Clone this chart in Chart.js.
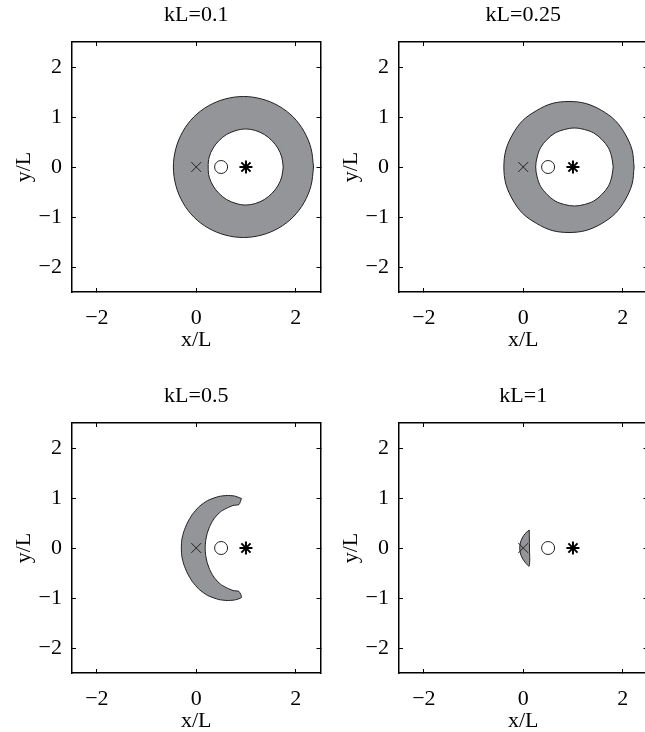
<!DOCTYPE html>
<html>
<head>
<meta charset="utf-8">
<script src="https://cdn.jsdelivr.net/npm/chart.js@4.4.1/dist/chart.umd.min.js"></script>
<style>
  html, body { margin: 0; padding: 0; overflow: hidden; background: #fff; }
  body { width: 645px; height: 732px; position: relative; }
  canvas { position: absolute; }
</style>
</head>
<body>
<canvas id="p1" width="329" height="353" style="left:0px;top:0px"></canvas>
<canvas id="p2" width="329" height="353" style="left:327px;top:0px"></canvas>
<canvas id="p3" width="329" height="353" style="left:0px;top:381px"></canvas>
<canvas id="p4" width="329" height="353" style="left:327px;top:381px"></canvas>
<script>
// panel titles and axis ticks
const panelTitles = ['kL=0.1', 'kL=0.25', 'kL=0.5', 'kL=1'];
const xTicks = [-2, 0, 2];
const yTicks = [-2, -1, 0, 1, 2];

// marker positions: x, o, *
const markerX = [0, 0.5, 1];
const markerY = [0, 0, 0];

// kL=0.1 : annulus outline (outer and inner edge)
const ring1OuterX = [2.36, 2.31, 2.17, 1.95, 1.66, 1.32, 0.95, 0.58, 0.24, -0.05, -0.27, -0.41, -0.46, -0.41, -0.27, -0.05, 0.24, 0.58, 0.95, 1.32, 1.66, 1.95, 2.17, 2.31, 2.36];
const ring1OuterY = [0, 0.37, 0.71, 1.00, 1.22, 1.36, 1.41, 1.36, 1.22, 1.00, 0.71, 0.37, 0, -0.37, -0.71, -1.00, -1.22, -1.36, -1.41, -1.36, -1.22, -1.00, -0.71, -0.37, 0];
const ring1InnerX = [1.75, 1.72, 1.64, 1.52, 1.37, 1.19, 0.99, 0.80, 0.61, 0.46, 0.34, 0.26, 0.24, 0.26, 0.34, 0.46, 0.61, 0.80, 0.99, 1.19, 1.37, 1.52, 1.64, 1.72, 1.75];
const ring1InnerY = [0, 0.20, 0.38, 0.53, 0.65, 0.73, 0.76, 0.73, 0.65, 0.53, 0.38, 0.20, 0, -0.20, -0.38, -0.53, -0.65, -0.73, -0.76, -0.73, -0.65, -0.53, -0.38, -0.20, 0];

// kL=0.25 : annulus outline
const ring2OuterX = [2.23, 2.19, 2.05, 1.85, 1.58, 1.26, 0.92, 0.58, 0.27, -0.01, -0.21, -0.35, -0.39, -0.35, -0.21, -0.01, 0.27, 0.58, 0.92, 1.26, 1.58, 1.85, 2.05, 2.19, 2.23];
const ring2OuterY = [0, 0.34, 0.66, 0.93, 1.13, 1.27, 1.31, 1.27, 1.13, 0.93, 0.66, 0.34, 0, -0.34, -0.66, -0.93, -1.13, -1.27, -1.31, -1.27, -1.13, -0.93, -0.66, -0.34, 0];
const ring2InnerX = [1.81, 1.78, 1.71, 1.58, 1.42, 1.23, 1.03, 0.83, 0.64, 0.48, 0.35, 0.28, 0.25, 0.28, 0.35, 0.48, 0.64, 0.83, 1.03, 1.23, 1.42, 1.58, 1.71, 1.78, 1.81];
const ring2InnerY = [0, 0.20, 0.39, 0.55, 0.68, 0.75, 0.78, 0.75, 0.68, 0.55, 0.39, 0.20, 0, -0.20, -0.39, -0.55, -0.68, -0.75, -0.78, -0.75, -0.68, -0.55, -0.39, -0.20, 0];

// kL=0.5 : crescent outline (outer arc down, inner arc back up)
const crescentX = [0.91, 0.77, 0.62, 0.45, 0.23, 0.06, -0.08, -0.18, -0.25, -0.29, -0.30,
                   -0.29, -0.25, -0.18, -0.08, 0.06, 0.23, 0.45, 0.62, 0.77, 0.91,
                   0.86, 0.74, 0.62, 0.51, 0.42, 0.34, 0.27, 0.22, 0.19, 0.18,
                   0.19, 0.22, 0.27, 0.34, 0.42, 0.51, 0.62, 0.74, 0.86, 0.91];
const crescentY = [0.99, 1.04, 1.05, 1.03, 0.95, 0.83, 0.67, 0.50, 0.33, 0.17, 0,
                   -0.17, -0.33, -0.50, -0.67, -0.83, -0.95, -1.03, -1.05, -1.04, -0.99,
                   -0.87, -0.85, -0.80, -0.74, -0.66, -0.56, -0.43, -0.29, -0.15, 0,
                   0.15, 0.29, 0.43, 0.56, 0.66, 0.74, 0.80, 0.85, 0.87, 0.99];

// kL=1 : small lens outline
const lensX = [0.12, 0.04, -0.02, -0.06, -0.07, -0.06, -0.02, 0.04, 0.12, 0.125, 0.12];
const lensY = [0.36, 0.29, 0.20, 0.10, 0, -0.10, -0.20, -0.29, -0.36, 0, 0.36];

const FONT = "'Liberation Serif', 'Times New Roman', serif";
const GREY = 'rgb(148, 149, 152)';
const EDGE = '#231f20';

Chart.defaults.color = '#000';
Chart.defaults.font.family = FONT;

function points(xs, ys) {
  return xs.map((x, i) => ({ x: x, y: ys[i] }));
}

// closed filled outline
function outline(xs, ys, fillColor, tension) {
  return {
    data: points(xs, ys),
    showLine: true,
    fill: 'shape',
    backgroundColor: fillColor,
    borderColor: EDGE,
    borderWidth: 1,
    pointRadius: 0,
    tension: tension
  };
}

function markers() {
  return [
    { data: [{ x: markerX[0], y: markerY[0] }], pointStyle: 'crossRot', pointRadius: 7,
      pointBorderColor: '#222', pointBorderWidth: 1 },
    { data: [{ x: markerX[1], y: markerY[1] }], pointStyle: 'circle', pointRadius: 6.5,
      pointBorderColor: '#222', pointBackgroundColor: '#fff', pointBorderWidth: 1 },
    { data: [{ x: markerX[2], y: markerY[2] }], pointStyle: 'star', pointRadius: 6.5,
      pointBorderColor: '#000', pointBorderWidth: 2 }
  ];
}

function setTicks(values) {
  return scale => { scale.ticks = values.map(v => ({ value: v })); };
}

function minus(v) {
  return String(v).replace('-', '\u2212');
}

const tickFont = { family: FONT, size: 22 };
const gridOpts = { drawOnChartArea: false, tickLength: -4, tickColor: '#000', tickWidth: 1 };
const borderOpts = { color: '#000', width: 1.5 };

function makePanel(id, title, shapes) {
  new Chart(document.getElementById(id), {
    type: 'scatter',
    data: { datasets: markers().concat(shapes) },
    options: {
      responsive: false,
      animation: false,
      events: [],
      layout: { padding: { left: 0, top: 0, right: 8, bottom: 0 } },
      plugins: {
        legend: { display: false },
        tooltip: { enabled: false },
        title: {
          display: true, text: title, fullSize: false, color: '#000',
          font: { family: FONT, size: 22, weight: 'normal' },
          padding: { top: 2.1, bottom: 13.5 }
        }
      },
      scales: {
        x: {
          type: 'linear', position: 'bottom', min: -2.5, max: 2.5,
          afterBuildTicks: setTicks(xTicks),
          afterFit: s => { s.height = 61; },
          grid: gridOpts, border: borderOpts,
          ticks: { font: tickFont, padding: 17, maxRotation: 0, autoSkip: false, callback: minus },
          title: { display: true, text: 'x/L', font: tickFont, padding: { top: 0, bottom: 0 } }
        },
        y: {
          type: 'linear', position: 'left', min: -2.5, max: 2.5,
          afterBuildTicks: setTicks(yTicks),
          afterFit: s => { s.width = 72; },
          grid: gridOpts, border: borderOpts,
          ticks: { font: tickFont, padding: 14, autoSkip: false, callback: minus },
          title: { display: true, text: 'y/L', font: tickFont, padding: { top: 11, bottom: 0 } }
        },
        // mirrored box edges with inward ticks
        x2: {
          type: 'linear', position: 'top', min: -2.5, max: 2.5,
          afterBuildTicks: setTicks(xTicks),
          afterFit: s => { s.height = 0; },
          grid: gridOpts, border: borderOpts,
          ticks: { display: false }
        },
        y2: {
          type: 'linear', position: 'right', min: -2.5, max: 2.5,
          afterBuildTicks: setTicks(yTicks),
          afterFit: s => { s.width = 0; },
          grid: gridOpts, border: borderOpts,
          ticks: { display: false }
        }
      }
    }
  });
}

makePanel('p1', panelTitles[0], [
  outline(ring1InnerX, ring1InnerY, '#fff', 0.34),
  outline(ring1OuterX, ring1OuterY, GREY, 0.34)
]);
makePanel('p2', panelTitles[1], [
  outline(ring2InnerX, ring2InnerY, '#fff', 0.34),
  outline(ring2OuterX, ring2OuterY, GREY, 0.34)
]);
makePanel('p3', panelTitles[2], [
  outline(crescentX, crescentY, GREY, 0.2)
]);
makePanel('p4', panelTitles[3], [
  outline(lensX, lensY, GREY, 0.3)
]);
</script>
</body>
</html>
